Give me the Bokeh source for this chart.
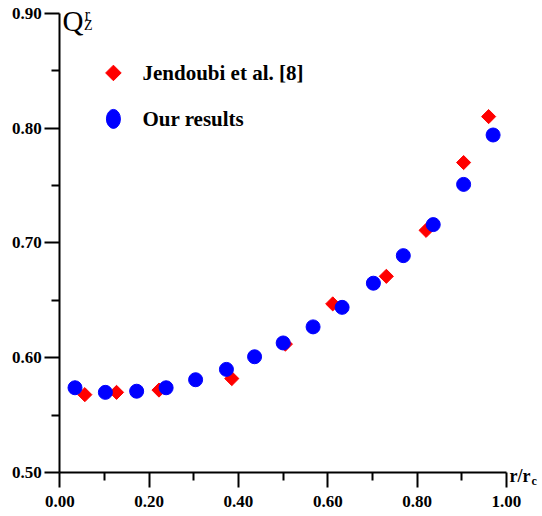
from bokeh.plotting import figure
from bokeh.models import Range1d, FixedTicker, NumeralTickFormatter, Label
from bokeh.embed import file_html
from bokeh.resources import INLINE

# Data
jend_x = [0.056, 0.127, 0.222, 0.385, 0.505, 0.611, 0.731, 0.820, 0.904, 0.960]
jend_y = [0.568, 0.570, 0.572, 0.582, 0.612, 0.647, 0.671, 0.711, 0.770, 0.810]

ours_x = [0.034, 0.102, 0.172, 0.238, 0.304, 0.373, 0.436, 0.500, 0.567, 0.632,
          0.702, 0.769, 0.836, 0.904, 0.970]
ours_y = [0.574, 0.570, 0.571, 0.574, 0.581, 0.590, 0.601, 0.613, 0.627, 0.644,
          0.665, 0.689, 0.716, 0.751, 0.794]

x_major = [0.0, 0.2, 0.4, 0.6, 0.8, 1.0]
x_minor = [0.1, 0.3, 0.5, 0.7, 0.9]
y_major = [0.5, 0.6, 0.7, 0.8, 0.9]
y_minor = [0.55, 0.65, 0.75, 0.85]

legend_labels = ["Jendoubi et al. [8]", "Our results"]

FONT = "Liberation Serif"

# the frame covers the whole page; axes are pinned at x=0 / y=0.5
p = figure(width=542, height=516,
           min_border_left=0, min_border_right=0,
           min_border_top=0, min_border_bottom=0,
           x_range=Range1d(-0.1328, 1.0806), y_range=Range1d(0.46197, 0.91105),
           output_backend="svg", toolbar_location=None,
           background_fill_color="white", border_fill_color="white")
p.outline_line_color = None
p.xgrid.visible = False
p.ygrid.visible = False

for ax, maj, mnr, fs, loc, bnd, so in (
        (p.xaxis[0], x_major, x_minor, "17px", 0.5, (0.0, 1.0), 8),
        (p.yaxis[0], y_major, y_minor, "17px", 0.0, (0.5, 0.9), 3)):
    ax.fixed_location = loc
    ax.bounds = bnd
    ax.ticker = FixedTicker(ticks=maj, minor_ticks=mnr)
    ax.formatter = NumeralTickFormatter(format="0.00")
    ax.axis_line_width = 2
    ax.axis_line_color = "black"
    ax.major_tick_line_width = 2
    ax.minor_tick_line_width = 2
    ax.major_tick_in = 0
    ax.major_tick_out = 15
    ax.minor_tick_in = 0
    ax.minor_tick_out = 8
    ax.major_label_text_font = FONT
    ax.major_label_text_font_style = "bold"
    ax.major_label_text_font_size = fs
    ax.major_label_text_color = "black"
    ax.major_label_standoff = so

# data
p.scatter(jend_x, jend_y, marker="square", angle=0.785398, size=10,
          fill_color="red", line_color="red")
p.scatter(ours_x, ours_y, marker="circle", size=14,
          fill_color="blue", line_color="blue")

# legend (manual)
p.scatter([0.12], [0.848], marker="square", angle=0.785398, size=11,
          fill_color="red", line_color="red")
p.ellipse([0.12], [0.808], width=14, height=19, width_units="screen",
          height_units="screen", fill_color="blue", line_color="blue")
for yy, txt in zip([0.848, 0.808], legend_labels):
    p.add_layout(Label(x=0.185, y=yy, text=txt, text_font=FONT,
                       text_font_style="bold", text_font_size="21px",
                       text_baseline="middle", text_color="black"))

# axis titles
def lab(x, y, t, size, bold=False):
    p.add_layout(Label(x=x, y=y, text=t, text_font=FONT,
                       text_font_style="bold" if bold else "normal",
                       text_font_size=size, text_baseline="middle",
                       text_color="black"))

lab(0.006, 0.8930, "Q", "29px")
lab(0.056, 0.8990, "r", "16px")
lab(0.054, 0.8895, "Z", "14px")
lab(1.0067, 0.4975, "r/r", "18px", bold=True)
lab(1.0560, 0.4930, "c", "12px", bold=True)

open("out.html", "w").write(file_html(p, INLINE))
